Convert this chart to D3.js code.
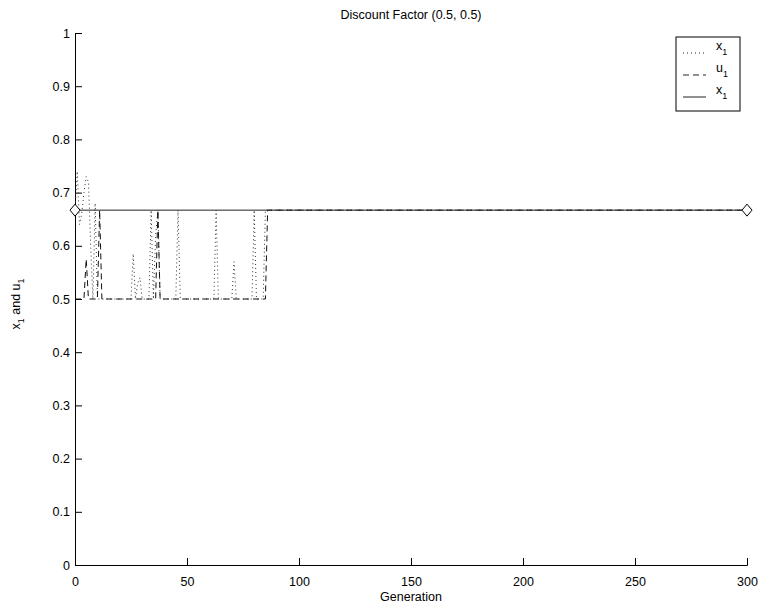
<!DOCTYPE html>
<html>
<head>
<meta charset="utf-8">
<script src="https://cdn.jsdelivr.net/npm/d3@7"></script>
<style>
  body { margin: 0; background: #fff; }
  text { font-family: "Liberation Sans", Arial, sans-serif; }
</style>
</head>
<body>
<div id="chart"></div>
<script>

// ------------------------ data ------------------------------

// x1 (dotted) : generation, value
var x1_gen = [0, 1, 2, 3, 4, 5, 6, 7, 8, 9, 10, 11, 25, 26, 27, 28, 29, 30, 33, 34, 35, 36, 37, 38, 45, 46, 47, 62, 63, 64, 70, 71, 72, 79, 80, 81, 84, 85, 300];
var x1_val = [0.667, 0.74, 0.64, 0.66, 0.70, 0.73, 0.72, 0.60, 0.50, 0.68, 0.50, 0.50, 0.50, 0.585, 0.50, 0.53, 0.54, 0.50, 0.50, 0.667, 0.50, 0.62, 0.667, 0.50, 0.50, 0.667, 0.50, 0.50, 0.667, 0.50, 0.50, 0.57, 0.50, 0.50, 0.667, 0.50, 0.50, 0.667, 0.667];

// u1 (dashed)
var u1_gen = [0, 4, 5, 6, 10, 11, 12, 36, 37, 38, 85, 86, 300];
var u1_val = [0.50, 0.50, 0.575, 0.50, 0.50, 0.667, 0.50, 0.50, 0.667, 0.50, 0.50, 0.667, 0.667];

// x1 equilibrium (solid, diamond ends)
var eq_gen = [0, 300];
var eq_val = [0.667, 0.667];

var xTicks = [0, 50, 100, 150, 200, 250, 300];
var yTicks = [0, 0.1, 0.2, 0.3, 0.4, 0.5, 0.6, 0.7, 0.8, 0.9, 1];

// ------------------------ chart ------------------------------

var margin = { top: 33, right: 12, bottom: 39, left: 75 },
	svgWidth = 759, svgHeight = 604,
	width = svgWidth - margin.left - margin.right,
	height = svgHeight - margin.top - margin.bottom;

var x = d3.scaleLinear().domain([0, 300]).range([0, width]);
var y = d3.scaleLinear().domain([0, 1]).range([height, 0]);

var svg = d3.select("#chart").append("svg")
		.attr("width", svgWidth)
		.attr("height", svgHeight)
			.append("g")
			.attr("transform", "translate(" + margin.left + "," + margin.top + ")");

var toPts = function(g, v) { return g.map(function(d, i) { return [d, v[i]]; }); };
var line = d3.line().x(function(d) { return x(d[0]); }).y(function(d) { return y(d[1]); });

// axes (MATLAB style: ticks inward, box off)
var axisX = svg.append("g")
		.attr("transform", "translate(0," + height + ")")
		.call(d3.axisBottom(x).tickValues(xTicks).tickSize(-7).tickPadding(12).tickFormat(d3.format("d")));
var axisY = svg.append("g")
		.call(d3.axisLeft(y).tickValues(yTicks).tickSize(-7).tickPadding(5).tickFormat(function(d) { return d === 0 || d === 1 ? d : d3.format(".1f")(d); }));
[axisX, axisY].forEach(function(a) {
	a.selectAll("text").attr("font-size", 12.5).attr("fill", "#000").attr("font-family", "Liberation Sans, Arial, sans-serif");
	a.selectAll("line").attr("stroke", "#000");
	a.select(".domain").attr("stroke", "#000");
});
axisX.selectAll("text").attr("dy", "0.75em");

// series
svg.append("path").datum(toPts(x1_gen, x1_val))
	.attr("d", line).attr("fill", "none").attr("stroke", "#333").attr("stroke-width", 1)
	.attr("stroke-dasharray", "1,3");
svg.append("path").datum(toPts(u1_gen, u1_val))
	.attr("d", line).attr("fill", "none").attr("stroke", "#111").attr("stroke-width", 1)
	.attr("stroke-dasharray", "6,4");
svg.append("path").datum(toPts(eq_gen, eq_val))
	.attr("d", line).attr("fill", "none").attr("stroke", "#222").attr("stroke-width", 1);
svg.selectAll(".marker").data(toPts(eq_gen, eq_val)).enter().append("path")
	.attr("class", "marker")
	.attr("transform", function(d) { return "translate(" + x(d[0]) + "," + y(d[1]) + ")"; })
	.attr("d", "M0,-6L5,0L0,6L-5,0Z")
	.attr("fill", "#fff").attr("stroke", "#000").attr("stroke-width", 1);

// title and axis labels
svg.append("text").attr("x", width / 2).attr("y", -14).attr("text-anchor", "middle")
	.attr("font-size", 12.5).text("Discount Factor (0.5, 0.5)");
svg.append("text").attr("x", width / 2).attr("y", height + 36).attr("text-anchor", "middle")
	.attr("font-size", 12.5).text("Generation");
var yl = svg.append("text").attr("transform", "translate(-55," + (height / 2 + 5) + ") rotate(-90)")
	.attr("text-anchor", "middle").attr("font-size", 12.5);
yl.append("tspan").text("x");
yl.append("tspan").attr("font-size", 9).attr("dy", 4).text("1");
yl.append("tspan").attr("dy", -4).text(" and u");
yl.append("tspan").attr("font-size", 9).attr("dy", 4).text("1");

// legend
var legNames = ["x", "u", "x"];
var legDash = ["1,3", "6,4", null];
var leg = svg.append("g").attr("transform", "translate(" + (x(300) - 71) + "," + 4 + ")");
leg.append("rect").attr("width", 64).attr("height", 74).attr("fill", "#fff").attr("stroke", "#000");
legNames.forEach(function(n, i) {
	var yy = 16 + i * 22;
	leg.append("line").attr("x1", 7).attr("x2", 30).attr("y1", yy).attr("y2", yy)
		.attr("stroke", "#222").attr("stroke-dasharray", legDash[i]);
	var t = leg.append("text").attr("x", 40).attr("y", yy - 3).attr("font-size", 12.5);
	t.append("tspan").text(n);
	t.append("tspan").attr("font-size", 9).attr("dy", 5).text("1");
});

</script>
</body>
</html>
